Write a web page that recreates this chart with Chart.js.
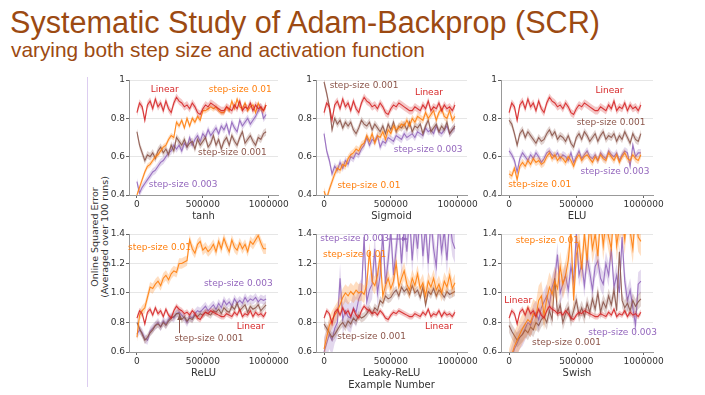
<!DOCTYPE html>
<html>
<head>
<meta charset="utf-8">
<script src="https://cdn.jsdelivr.net/npm/chart.js@4.4.1/dist/chart.umd.min.js"></script>
<style>
  html, body { margin: 0; padding: 0; background: #fff; }
  body { width: 705px; height: 395px; position: relative; overflow: hidden; font-family: "Liberation Sans", Arial, sans-serif; }
  .title { position: absolute; left: 10px; top: 7px; font-size: 30.6px; line-height: 30px; color: #9c4a12; white-space: nowrap; }
  .subtitle { position: absolute; left: 11px; top: 40px; font-size: 20.8px; line-height: 20px; color: #9c4a12; white-space: nowrap; }
  .rule { position: absolute; left: 87px; top: 77px; width: 1px; height: 310px; background: #dccdf0; }
  .ylab { position: absolute; left: 100px; top: 237px; transform: translate(-50%, -50%) rotate(-90deg);
          font-family: "DejaVu Sans"; font-size: 9.5px; line-height: 10px; text-align: center; color: #333; white-space: nowrap; }
  canvas { position: absolute; }
</style>
</head>
<body>
<div class="title">Systematic Study of Adam-Backprop (SCR)</div>
<div class="subtitle">varying both step size and activation function</div>
<div class="rule"></div>
<div class="ylab">Online Squared Error<br>(Averaged over 100 runs)</div>
<script>
// --- x positions (examples seen) ---
const steps = [0, 20000, 40000, 60000, 80000, 100000, 120000, 140000, 160000, 180000,
  200000, 220000, 240000, 260000, 280000, 300000, 320000, 340000, 360000, 380000,
  400000, 420000, 440000, 460000, 480000, 500000, 520000, 540000, 560000, 580000,
  600000, 620000, 640000, 660000, 680000, 700000, 720000, 740000, 760000, 780000,
  800000, 820000, 840000, 860000, 880000, 900000, 920000, 940000, 960000, 980000];
const xTicks = [0, 500000, 1000000];
const topTicks = [0.4, 0.6, 0.8, 1.0];
const bottomTicks = [0.6, 0.8, 1.0, 1.2, 1.4];

// linear baseline does not depend on the activation -> same curve everywhere
const linear = [0.83,0.88,0.86,0.79,0.87,0.89,0.85,0.90,0.86,0.88,
  0.84,0.89,0.85,0.83,0.88,0.91,0.89,0.88,0.86,0.87,
  0.85,0.88,0.86,0.83,0.82,0.85,0.87,0.86,0.88,0.87,
  0.86,0.85,0.84,0.84,0.86,0.85,0.84,0.87,0.85,0.89,
  0.84,0.86,0.85,0.88,0.84,0.87,0.85,0.86,0.84,0.87];

// tanh
const tanh01 = [0.40,0.44,0.48,0.52,0.55,0.56,0.58,0.60,0.61,0.63,
  0.65,0.66,0.69,0.71,0.70,0.78,0.76,0.79,0.75,0.80,
  0.76,0.80,0.78,0.81,0.79,0.84,0.84,0.85,0.86,0.85,
  0.86,0.84,0.83,0.83,0.86,0.84,0.89,0.85,0.90,0.86,
  0.85,0.88,0.84,0.86,0.87,0.83,0.88,0.85,0.84,0.87];
const tanh001 = [0.73,0.66,0.62,0.58,0.61,0.60,0.62,0.59,0.63,0.65,
  0.62,0.64,0.61,0.66,0.63,0.70,0.68,0.66,0.69,0.65,
  0.67,0.68,0.64,0.69,0.66,0.68,0.70,0.65,0.67,0.71,
  0.66,0.69,0.64,0.68,0.70,0.66,0.71,0.68,0.66,0.70,
  0.73,0.67,0.69,0.71,0.68,0.66,0.70,0.69,0.72,0.73];
const tanh003 = [0.47,0.41,0.44,0.46,0.48,0.50,0.52,0.53,0.55,0.57,
  0.58,0.60,0.62,0.63,0.66,0.64,0.66,0.63,0.67,0.65,
  0.70,0.66,0.69,0.71,0.68,0.72,0.70,0.74,0.71,0.73,
  0.75,0.72,0.76,0.74,0.77,0.72,0.78,0.75,0.73,0.79,
  0.76,0.78,0.80,0.77,0.79,0.81,0.84,0.86,0.80,0.82];

// Sigmoid
const sigm01 = [0.42,0.38,0.43,0.47,0.51,0.54,0.53,0.56,0.55,0.59,
  0.61,0.62,0.64,0.63,0.66,0.67,0.71,0.68,0.72,0.67,
  0.71,0.70,0.73,0.69,0.74,0.72,0.76,0.74,0.75,0.77,
  0.76,0.79,0.76,0.80,0.78,0.81,0.80,0.79,0.83,0.80,
  0.82,0.84,0.79,0.83,0.85,0.81,0.80,0.84,0.79,0.81];
const sigm001 = [0.99,0.93,0.86,0.74,0.80,0.77,0.79,0.75,0.78,0.76,
  0.78,0.74,0.72,0.75,0.79,0.77,0.76,0.78,0.74,0.77,
  0.75,0.73,0.76,0.72,0.77,0.74,0.78,0.73,0.76,0.75,
  0.77,0.74,0.78,0.73,0.76,0.75,0.77,0.72,0.76,0.79,
  0.73,0.75,0.77,0.73,0.76,0.74,0.78,0.72,0.74,0.76];
const sigm003 = [0.72,0.63,0.58,0.51,0.55,0.53,0.57,0.54,0.58,0.56,
  0.60,0.59,0.62,0.61,0.64,0.66,0.70,0.66,0.69,0.68,
  0.71,0.65,0.68,0.67,0.70,0.69,0.68,0.71,0.70,0.69,
  0.72,0.70,0.71,0.72,0.70,0.73,0.72,0.71,0.75,0.73,
  0.74,0.72,0.76,0.73,0.72,0.74,0.76,0.72,0.74,0.75];

// ELU
const elu01 = [0.51,0.50,0.54,0.48,0.55,0.57,0.55,0.58,0.56,0.59,
  0.57,0.58,0.56,0.57,0.60,0.62,0.59,0.61,0.58,0.60,
  0.59,0.57,0.60,0.58,0.55,0.59,0.61,0.58,0.60,0.61,
  0.59,0.57,0.60,0.58,0.61,0.59,0.58,0.62,0.60,0.58,
  0.61,0.57,0.60,0.62,0.59,0.58,0.61,0.59,0.58,0.61];
const elu001 = [0.79,0.77,0.72,0.66,0.72,0.74,0.70,0.73,0.71,0.69,
  0.67,0.70,0.68,0.69,0.72,0.74,0.71,0.73,0.69,0.71,
  0.70,0.68,0.71,0.67,0.65,0.70,0.72,0.69,0.73,0.71,
  0.68,0.70,0.72,0.68,0.71,0.73,0.69,0.71,0.70,0.72,
  0.68,0.71,0.69,0.73,0.70,0.67,0.72,0.69,0.68,0.72];
const elu003 = [0.63,0.61,0.58,0.52,0.59,0.62,0.60,0.58,0.61,0.59,
  0.62,0.60,0.57,0.59,0.62,0.63,0.61,0.60,0.62,0.59,
  0.61,0.60,0.58,0.62,0.57,0.60,0.63,0.59,0.61,0.63,
  0.60,0.59,0.61,0.58,0.62,0.60,0.59,0.63,0.61,0.60,
  0.62,0.58,0.61,0.63,0.62,0.55,0.66,0.60,0.62,0.62];

// ReLU
const relu01 = [0.70,0.85,0.88,0.90,0.97,1.04,1.03,1.06,1.08,1.05,
  1.10,1.12,1.09,1.13,1.15,1.14,1.20,1.20,1.21,1.22,
  1.36,1.30,1.27,1.33,1.35,1.29,1.31,1.28,1.30,1.33,
  1.28,1.35,1.30,1.37,1.32,1.28,1.36,1.31,1.29,1.34,
  1.30,1.33,1.28,1.35,1.33,1.36,1.39,1.34,1.30,1.30];
const relu001 = [0.80,0.76,0.72,0.68,0.70,0.73,0.75,0.78,0.79,0.77,
  0.80,0.78,0.81,0.83,0.84,0.86,0.86,0.82,0.84,0.81,
  0.83,0.82,0.85,0.84,0.86,0.85,0.87,0.86,0.85,0.88,
  0.87,0.89,0.86,0.90,0.88,0.87,0.91,0.89,0.93,0.88,
  0.90,0.92,0.87,0.91,0.89,0.90,0.92,0.88,0.90,0.92];
const relu003 = [0.72,0.75,0.73,0.69,0.68,0.74,0.76,0.78,0.80,0.77,
  0.81,0.79,0.82,0.84,0.83,0.86,0.87,0.85,0.83,0.80,
  0.84,0.83,0.86,0.88,0.87,0.89,0.91,0.88,0.90,0.92,
  0.89,0.93,0.90,0.95,0.92,0.94,0.91,0.96,0.93,0.95,
  0.93,0.97,0.94,0.96,0.95,0.97,0.94,0.96,0.95,0.96];

// Leaky-ReLU
const leaky01 = [0.62,0.70,0.78,0.82,0.85,0.88,0.92,0.97,1.00,0.98,
  1.01,0.99,1.02,1.00,1.01,0.99,1.06,1.28,1.08,1.05,
  1.12,1.25,0.98,1.05,1.10,1.03,1.08,1.20,1.04,1.10,
  1.15,1.06,1.02,1.10,1.05,1.13,1.03,1.07,0.98,1.08,
  1.04,1.10,1.02,1.06,1.00,1.08,1.04,1.12,1.03,1.07];
const leaky001 = [0.79,0.76,0.73,0.70,0.72,0.75,0.78,0.80,0.77,0.81,
  0.79,0.83,0.81,0.85,0.83,0.84,0.86,0.89,0.86,0.90,
  0.88,0.95,0.93,0.98,0.96,0.97,1.00,1.02,0.98,1.04,
  1.01,1.03,0.99,1.05,1.00,1.02,0.97,1.04,0.92,1.01,
  0.99,1.03,0.98,1.02,1.00,0.97,1.01,0.99,1.00,1.01];
const leaky003 = [0.60,0.66,0.72,0.68,0.76,0.80,1.10,0.82,0.88,0.84,
  0.83,0.90,0.87,0.96,1.00,1.38,0.94,1.02,1.06,1.30,
  1.00,1.12,1.40,1.06,1.22,1.42,1.12,1.30,1.48,1.20,
  1.45,1.28,1.52,1.22,1.46,1.30,1.55,1.25,1.45,1.20,
  1.50,1.30,1.18,1.48,1.28,1.42,1.22,1.50,1.35,1.30];

// Swish
const swish01 = [0.52,0.58,0.64,0.68,0.72,0.76,0.79,0.82,0.80,0.86,
  0.84,0.95,0.98,0.85,0.96,1.04,0.99,1.08,1.03,1.18,
  1.06,1.12,1.22,1.42,0.95,1.26,1.34,1.16,1.40,1.22,
  1.48,1.30,1.40,1.25,1.52,1.32,1.48,1.38,1.30,1.58,
  1.32,1.45,1.50,1.36,1.60,1.42,1.30,1.55,1.38,1.35];
const swish001 = [0.78,0.74,0.71,0.68,0.70,0.72,0.75,0.73,0.77,0.75,
  0.80,0.78,0.82,0.84,0.80,0.88,0.82,1.10,0.86,0.92,
  0.80,0.86,0.90,0.82,0.88,0.95,0.85,0.90,0.84,0.93,
  0.87,0.96,0.89,1.00,0.87,0.94,0.90,0.98,0.92,1.02,
  0.88,1.28,0.95,0.90,0.93,0.88,0.95,0.91,0.94,0.96];
const swish003 = [0.50,0.56,0.62,0.66,0.70,0.72,0.76,0.80,0.78,0.84,
  0.87,0.82,0.90,0.94,0.98,0.92,1.04,1.10,1.26,1.00,
  1.06,1.12,1.02,1.18,1.08,1.40,1.12,1.20,1.05,1.24,
  1.14,1.02,1.18,1.22,1.10,1.06,1.20,1.12,1.30,1.04,
  1.12,1.00,1.38,1.08,0.95,1.02,0.90,0.78,1.06,1.08];

// matplotlib tab colours
const COLORS = { lin: '#d62728', s01: '#ff7f0e', s001: '#8c564b', s003: '#9467bd' };

const rgba = (hex, a) => {
    const n = parseInt(hex.slice(1), 16);
    return `rgba(${n >> 16}, ${(n >> 8) & 255}, ${n & 255}, ${a})`;
};
const fmtTop = v => (v === 1 ? '1' : v.toFixed(1));
const fmtBottom = v => v.toFixed(1);

// series: [values, colour key, half band width]
const panels = [
    { title: 'tanh', left: 129, right: 278, top: 80, bottom: 195, yMin: 0.4, yMax: 1.0, ticks: topTicks, fmt: fmtTop,
      series: [[linear, 'lin', 0.02], [tanh01, 's01', 0.015], [tanh001, 's001', 0.02], [tanh003, 's003', 0.02]],
      notes: [['Linear', 'lin', 105000, 0.948, 'left'], ['step-size 0.01', 's01', 1023000, 0.948, 'right'],
              ['step-size 0.001', 's001', 985000, 0.619, 'right'], ['step-size 0.003', 's003', 90000, 0.452, 'left']] },
    { title: 'Sigmoid', left: 316, right: 467, top: 80, bottom: 195, yMin: 0.4, yMax: 1.0, ticks: topTicks, fmt: fmtTop,
      series: [[linear, 'lin', 0.02], [sigm01, 's01', 0.02], [sigm001, 's001', 0.02], [sigm003, 's003', 0.02]],
      notes: [['step-size 0.001', 's001', 42000, 0.969, 'left'], ['Linear', 'lin', 680000, 0.932, 'left'],
              ['step-size 0.003', 's003', 1037000, 0.634, 'right'], ['step-size 0.01', 's01', 100000, 0.447, 'left']] },
    { title: 'ELU', left: 501, right: 653, top: 80, bottom: 195, yMin: 0.4, yMax: 1.0, ticks: topTicks, fmt: fmtTop,
      series: [[linear, 'lin', 0.02], [elu01, 's01', 0.02], [elu001, 's001', 0.02], [elu003, 's003', 0.02]],
      notes: [['Linear', 'lin', 643000, 0.943, 'left'], ['step-size 0.001', 's001', 1014000, 0.776, 'right'],
              ['step-size 0.003', 's003', 1043000, 0.52, 'right'], ['step-size 0.01', 's01', -7000, 0.452, 'left']] },
    { title: 'ReLU', left: 129, right: 278, top: 234, bottom: 352, yMin: 0.6, yMax: 1.4, ticks: bottomTicks, fmt: fmtBottom,
      series: [[linear, 'lin', 0.02], [relu01, 's01', 0.035], [relu001, 's001', 0.025], [relu003, 's003', 0.03]],
      notes: [['step-size 0.01', 's01', -68000, 1.305, 'left'], ['step-size 0.003', 's003', 1030000, 1.061, 'right'],
              ['Linear', 'lin', 970000, 0.769, 'right'], ['step-size 0.001', 's001', 286000, 0.688, 'left']],
      arrows: [['s001', 323000, 0.728, 323000, 0.855]] },
    { title: ['Leaky-ReLU', 'Example Number'], left: 316, right: 467, top: 234, bottom: 352, yMin: 0.6, yMax: 1.4, ticks: bottomTicks, fmt: fmtBottom,
      series: [[linear, 'lin', 0.02], [leaky01, 's01', 0.06], [leaky001, 's001', 0.03], [leaky003, 's003', 0.1]],
      notes: [['step-size 0.003', 's003', -28000, 1.366, 'left'], ['step-size 0.01', 's01', -7000, 1.258, 'left'],
              ['Linear', 'lin', 965000, 0.769, 'right'], ['step-size 0.001', 's001', 99000, 0.702, 'left']],
      arrows: [['s003', 470000, 1.366, 625000, 1.366]] },
    { title: 'Swish', left: 501, right: 653, top: 234, bottom: 352, yMin: 0.6, yMax: 1.4, ticks: bottomTicks, fmt: fmtBottom,
      series: [[linear, 'lin', 0.02], [swish01, 's01', 0.1], [swish001, 's001', 0.05], [swish003, 's003', 0.08]],
      notes: [['step-size 0.01', 's01', 50000, 1.353, 'left'], ['Linear', 'lin', -36000, 0.946, 'left'],
              ['step-size 0.003', 's003', 1100000, 0.728, 'right'], ['step-size 0.001', 's001', 171000, 0.66, 'left']] }
];

// text labels and arrows placed in data coordinates
const notesPlugin = {
    id: 'notes',
    afterDatasetsDraw(chart, args, opts) {
        const { ctx, scales: { x, y } } = chart;
        ctx.save();
        ctx.font = '9px "DejaVu Sans"';
        ctx.textBaseline = 'middle';
        (opts.items || []).forEach(([text, key, vx, vy, align]) => {
            ctx.fillStyle = COLORS[key];
            ctx.textAlign = align;
            ctx.fillText(text, x.getPixelForValue(vx), y.getPixelForValue(vy));
        });
        (opts.arrows || []).forEach(([key, x0, y0, x1, y1]) => {
            const ax = x.getPixelForValue(x0), ay = y.getPixelForValue(y0);
            const bx = x.getPixelForValue(x1), by = y.getPixelForValue(y1);
            const ang = Math.atan2(by - ay, bx - ax);
            ctx.strokeStyle = ctx.fillStyle = COLORS[key];
            ctx.lineWidth = 1;
            ctx.beginPath();
            ctx.moveTo(ax, ay);
            ctx.lineTo(bx, by);
            ctx.stroke();
            ctx.beginPath();
            ctx.moveTo(bx, by);
            ctx.lineTo(bx - 6 * Math.cos(ang - 0.4), by - 6 * Math.sin(ang - 0.4));
            ctx.lineTo(bx - 6 * Math.cos(ang + 0.4), by - 6 * Math.sin(ang + 0.4));
            ctx.closePath();
            ctx.fill();
        });
        ctx.restore();
    }
};

Chart.defaults.font.family = '"DejaVu Sans"';

const pts = vals => vals.map((v, i) => ({ x: steps[i], y: v }));

panels.forEach(p => {
    const nLines = Array.isArray(p.title) ? p.title.length : 1;
    const axisH = 27 + 12 * (nLines - 1);
    const padTop = 8, padRight = 14, yW = 30;

    const cv = document.createElement('canvas');
    cv.width = yW + (p.right - p.left) + padRight;
    cv.height = padTop + (p.bottom - p.top) + axisH;
    cv.style.left = (p.left - yW) + 'px';
    cv.style.top = (p.top - padTop) + 'px';
    document.body.appendChild(cv);

    const datasets = [];
    p.series.forEach(([vals, key, s]) => {
        const c = COLORS[key];
        datasets.push({ data: pts(vals.map(v => v - s)), borderColor: 'transparent', borderWidth: 0, pointRadius: 0, fill: false });
        datasets.push({ data: pts(vals.map(v => v + s)), borderColor: 'transparent', borderWidth: 0, pointRadius: 0,
                        fill: '-1', backgroundColor: rgba(c, 0.26) });
        datasets.push({ data: pts(vals), borderColor: rgba(c, 0.9), borderWidth: 1.1, pointRadius: 0, fill: false });
    });

    new Chart(cv, {
        type: 'line',
        data: { datasets },
        plugins: [notesPlugin],
        options: {
            responsive: false,
            animation: false,
            layout: { padding: { top: padTop, right: padRight, left: 0, bottom: 0 } },
            scales: {
                x: {
                    type: 'linear', min: -60000, max: 1070000,
                    afterBuildTicks: s => { s.ticks = xTicks.map(v => ({ value: v })); },
                    afterFit: s => { s.height = axisH; },
                    ticks: { color: '#333', font: { size: 9 }, maxRotation: 0, autoSkip: false, padding: 1,
                             callback: v => String(v) },
                    grid: { drawOnChartArea: false, tickLength: 3, tickColor: '#666' },
                    border: { color: '#999' },
                    title: { display: true, text: p.title, color: '#333', font: { size: 10 }, padding: { top: 0, bottom: 0 } }
                },
                y: {
                    min: p.yMin, max: p.yMax,
                    afterBuildTicks: s => { s.ticks = p.ticks.map(v => ({ value: v })); },
                    afterFit: s => { s.width = yW; },
                    ticks: { color: '#333', font: { size: 9 }, padding: 1, callback: v => p.fmt(v) },
                    grid: { color: '#e6e6e6', tickLength: 3, tickColor: '#666' },
                    border: { color: '#999' }
                }
            },
            plugins: {
                legend: { display: false },
                tooltip: { enabled: false },
                notes: { items: p.notes, arrows: p.arrows || [] }
            }
        }
    });
});
</script>
</body>
</html>
